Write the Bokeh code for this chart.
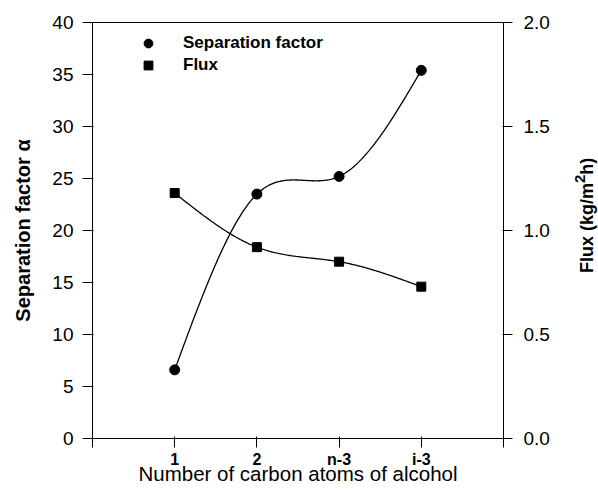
import numpy as np
from bokeh.plotting import figure
from bokeh.layouts import row
from bokeh.models import Range1d, LinearAxis, FixedTicker, Legend, LegendItem, Div
from bokeh.embed import file_html
from bokeh.resources import INLINE

# Alcohol series along the x axis
categories = ["1", "2", "n-3", "i-3"]
positions = [1, 2, 3, 4]

# Measured values
separation_factor = [6.6, 23.5, 25.2, 35.4]
flux = [1.18, 0.92, 0.85, 0.73]

left_ticks = [0, 5, 10, 15, 20, 25, 30, 35, 40]
right_ticks = [0.0, 0.5, 1.0, 1.5, 2.0]

FONT = "Liberation Sans"
TITLE_STRIP = 30  # width of the strip holding the flux axis title


def natural_spline(xs, ys, n=200):
    """Natural cubic spline through the given points (smooth connecting line)."""
    xs = np.asarray(xs, float)
    ys = np.asarray(ys, float)
    k = len(xs)
    h = np.diff(xs)
    A = np.zeros((k, k))
    b = np.zeros(k)
    A[0, 0] = A[-1, -1] = 1.0
    for i in range(1, k - 1):
        A[i, i - 1] = h[i - 1]
        A[i, i] = 2 * (h[i - 1] + h[i])
        A[i, i + 1] = h[i]
        b[i] = 6 * ((ys[i + 1] - ys[i]) / h[i] - (ys[i] - ys[i - 1]) / h[i - 1])
    M = np.linalg.solve(A, b)
    xx = np.linspace(xs[0], xs[-1], n)
    yy = np.empty_like(xx)
    for j, x in enumerate(xx):
        i = min(np.searchsorted(xs, x, side="right") - 1, k - 2)
        t0 = xs[i + 1] - x
        t1 = x - xs[i]
        yy[j] = (M[i] * t0 ** 3 / (6 * h[i]) + M[i + 1] * t1 ** 3 / (6 * h[i])
                 + (ys[i] / h[i] - M[i] * h[i] / 6) * t0
                 + (ys[i + 1] / h[i] - M[i + 1] * h[i] / 6) * t1)
    return xx, yy


p = figure(width=598 - TITLE_STRIP, height=490, output_backend="svg",
           toolbar_location=None,
           x_range=Range1d(0, 5), y_range=Range1d(0, 40),
           min_border_left=92, min_border_right=95 - TITLE_STRIP,
           min_border_top=22, min_border_bottom=52)
p.extra_y_ranges = {"flux": Range1d(0, 2)}
p.grid.visible = False
p.background_fill_color = "white"
p.border_fill_color = "white"
p.outline_line_color = "black"
p.outline_line_width = 1

# Smooth connecting curves
sx, sy = natural_spline(positions, separation_factor)
p.line(sx, sy, line_color="black", line_width=1.3)
fx, fy = natural_spline(positions, flux)
p.line(fx, fy, line_color="black", line_width=1.3, y_range_name="flux")

# Data markers
r_sep = p.scatter(positions, separation_factor, marker="circle", size=10,
                  fill_color="black", line_color="black")
r_flux = p.scatter(positions, flux, marker="square", size=9,
                   fill_color="black", line_color="black", y_range_name="flux")

# Axes
xa = p.xaxis[0]
xa.ticker = FixedTicker(ticks=[0] + positions + [5])
xa.major_label_overrides = {0: "", 5: "", **{pos: c for pos, c in zip(positions, categories)}}
xa.minor_tick_line_color = None
xa.major_tick_out = 9
xa.major_tick_in = 2
xa.major_label_standoff = 3
xa.major_label_text_font = FONT
xa.major_label_text_font_style = "bold"
xa.major_label_text_font_size = "16px"
xa.axis_label = "Number of carbon atoms of alcohol"
xa.axis_label_text_font = FONT
xa.axis_label_text_font_style = "normal"
xa.axis_label_text_font_size = "20.5px"
xa.axis_label_standoff = -9

ya = p.yaxis[0]
ya.ticker = FixedTicker(ticks=left_ticks)
ya.minor_tick_line_color = None
ya.major_tick_out = 10
ya.major_tick_in = 1
ya.major_label_standoff = 9
ya.major_label_text_font = FONT
ya.major_label_text_font_size = "19px"
ya.axis_label = "Separation factor α"
ya.axis_label_text_font = FONT
ya.axis_label_text_font_style = "bold"
ya.axis_label_text_font_size = "20px"
ya.axis_label_standoff = 15

ra = LinearAxis(y_range_name="flux", ticker=FixedTicker(ticks=right_ticks))
ra.minor_tick_line_color = None
ra.major_tick_out = 9
ra.major_tick_in = 1
ra.major_label_standoff = 11
ra.major_label_text_font = FONT
ra.major_label_text_font_size = "19px"
ra.major_label_overrides = {t: f"{t:.1f}" for t in right_ticks}
p.add_layout(ra, "right")

for ax in (xa, ya, ra):
    ax.axis_line_color = "black"
    ax.major_tick_line_color = "black"
    ax.major_label_text_color = "black"
    ax.axis_label_text_color = "black"

legend = Legend(items=[LegendItem(label="Separation factor", renderers=[r_sep]),
                       LegendItem(label="Flux", renderers=[r_flux])],
                location=(45, 362))
legend.border_line_color = None
legend.background_fill_alpha = 0
legend.padding = 0
legend.margin = 0
legend.spacing = 0
legend.glyph_width = 22
legend.glyph_height = 22
legend.label_height = 20
legend.label_standoff = 24
legend.label_text_font = FONT
legend.label_text_font_style = "bold"
legend.label_text_font_size = "17px"
legend.label_text_color = "black"
legend.label_text_baseline = "middle"
p.add_layout(legend, "center")

# Flux axis title, reading bottom-to-top beside the right axis
flux_title = Div(
    text="Flux (kg/m<sup>2</sup>h)",
    width=TITLE_STRIP, height=430, margin=0,
    styles={
        "writing-mode": "vertical-rl",
        "transform": "rotate(180deg)",
        "text-align": "center",
        "line-height": "24px",
        "font-family": FONT,
        "font-weight": "bold",
        "font-size": "18px",
        "color": "black",
        "background": "white",
    },
)

layout = row(p, flux_title, spacing=0)
open("out.html", "w").write(file_html(layout, INLINE))
